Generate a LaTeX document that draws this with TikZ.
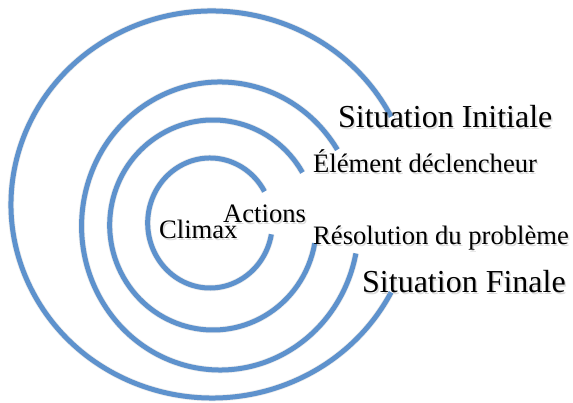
\documentclass[tikz,border=0pt]{standalone}
\usepackage{fontspec}
\setmainfont{Liberation Serif}
\definecolor{arcblue}{RGB}{94,146,205}
\tikzset{
  ring/.style={draw=arcblue, line width=5pt, line cap=butt},
  ringshadow/.style={draw=black, opacity=0.08, line width=6.5pt, line cap=butt},
  big/.style={inner sep=0pt, anchor=base west, font=\fontsize{32}{38}\selectfont},
  small/.style={inner sep=0pt, anchor=base west, font=\fontsize{26.6}{32}\selectfont},
  shade/.style={text=black!30, opacity=0.45}
}
\begin{document}
\begin{tikzpicture}[x=1pt,y=1pt]
\useasboundingbox (0,0) rectangle (573,403);
% ring centres
\coordinate (c1) at (212,198.5);
\coordinate (c2) at (220,177);
\coordinate (c3) at (213,178);
\coordinate (c4) at (210,180);
% soft shadows of the rings
\begin{scope}[shift={(1.5,-1.8)}]
\draw[ringshadow] (c1) ++(27:201 and 193.5) arc[start angle=27, end angle=333, x radius=201, y radius=193.5];
\draw[ringshadow] (c2) ++(32:138.4 and 144) arc[start angle=32, end angle=349, x radius=138.4, y radius=144];
\draw[ringshadow] (c3) ++(30:103.3 and 105) arc[start angle=30, end angle=350, x radius=103.3, y radius=105];
\draw[ringshadow] (c4) ++(29:62.3 and 65) arc[start angle=29, end angle=350, x radius=62.3, y radius=65];
\end{scope}
% rings
\draw[ring] (c1) ++(27:201 and 193.5) arc[start angle=27, end angle=333, x radius=201, y radius=193.5];
\draw[ring] (c2) ++(32:138.4 and 144) arc[start angle=32, end angle=349, x radius=138.4, y radius=144];
\draw[ring] (c3) ++(30:103.3 and 105) arc[start angle=30, end angle=350, x radius=103.3, y radius=105];
\draw[ring] (c4) ++(29:62.3 and 65) arc[start angle=29, end angle=350, x radius=62.3, y radius=65];
% text shadows
\node[big,shade] at (339.5,273.5) {Situation Initiale};
\node[small,shade] at (314.5,228.5) {Élément déclencheur};
\node[small,shade] at (314.5,156.5) {Résolution du problème};
\node[big,shade] at (363.5,108.5) {Situation Finale};
\node[small,shade] at (224.5,178.5) {Actions};
\node[small,shade] at (160.5,162.5) {Climax};
% labels
\node[big] (si) at (338,275) {Situation Initiale};
\node[small] (ed) at (313,230) {Élément déclencheur};
\node[small] (rp) at (313,158) {Résolution du problème};
\node[big] (sf) at (362,110) {Situation Finale};
\node[small] (ac) at (223,180) {Actions};
\node[small] (cl) at (159,164) {Climax};
\end{tikzpicture}
\end{document}
